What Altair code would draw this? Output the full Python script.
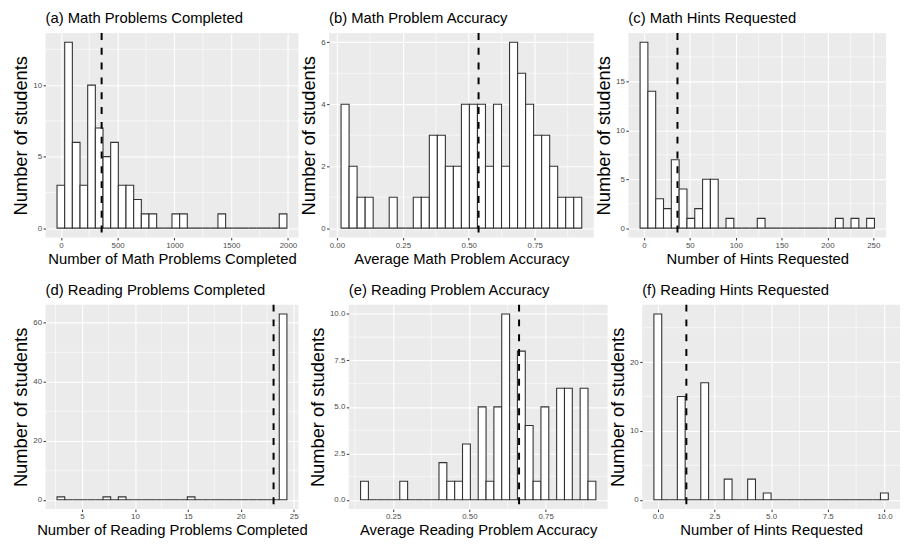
import altair as alt
import pandas as pd

panel_titles = [
    "(a) Math Problems Completed", "(b) Math Problem Accuracy", "(c) Math Hints Requested",
    "(d) Reading Problems Completed", "(e) Reading Problem Accuracy", "(f) Reading Hints Requested",
]
x_titles = [
    "Number of Math Problems Completed", "Average Math Problem Accuracy", "Number of Hints Requested",
    "Number of Reading Problems Completed", "Average Reading Problem Accuracy", "Number of Hints Requested",
]
y_title = "Number of students"

# smallest / largest observed value of each variable (30 bins span them, as ggplot does)
data_min = [0, 0.031, 0, 3, 0.156, 0]
data_max = [1957, 0.913, 247, 24, 0.902, 10]

counts_a = [3, 13, 6, 3, 10, 7, 5, 6, 3, 3, 2, 1, 1, 0, 0, 1, 1, 0, 0, 0, 0, 1, 0, 0, 0, 0, 0, 0, 0, 1]
counts_b = [4, 2, 1, 1, 0, 0, 1, 0, 0, 1, 1, 3, 3, 2, 2, 4, 4, 4, 2, 4, 2, 6, 5, 4, 3, 3, 2, 1, 1, 1]
counts_c = [19, 14, 3, 2, 7, 4, 1, 2, 5, 5, 0, 1, 0, 0, 0, 1, 0, 0, 0, 0, 0, 0, 0, 0, 0, 1, 0, 1, 0, 1]
counts_d = [1, 0, 0, 0, 0, 0, 1, 0, 1, 0, 0, 0, 0, 0, 0, 0, 0, 1, 0, 0, 0, 0, 0, 0, 0, 0, 0, 0, 0, 63]
counts_e = [1, 0, 0, 0, 0, 1, 0, 0, 0, 0, 2, 1, 1, 3, 0, 5, 1, 5, 10, 0, 8, 4, 1, 5, 0, 6, 6, 0, 6, 1]
counts_f = [27, 0, 0, 15, 0, 0, 17, 0, 0, 3, 0, 0, 3, 0, 1, 0, 0, 0, 0, 0, 0, 0, 0, 0, 0, 0, 0, 0, 0, 1]
counts = [counts_a, counts_b, counts_c, counts_d, counts_e, counts_f]

means = [359, 0.537, 36.5, 23.1, 0.663, 1.26]

x_ticks = [[0, 500, 1000, 1500, 2000], [0, 0.25, 0.5, 0.75], [0, 50, 100, 150, 200, 250],
           [5, 10, 15, 20, 25], [0.25, 0.5, 0.75], [0, 2.5, 5, 7.5, 10]]
x_minor = [[250, 750, 1250, 1750], [0.125, 0.375, 0.625, 0.875], [25, 75, 125, 175, 225],
           [2.5, 7.5, 12.5, 17.5, 22.5], [0.125, 0.375, 0.625, 0.875], [1.25, 3.75, 6.25, 8.75]]
x_fmt = ["d", ".2f", "d", "d", ".2f", ".1f"]
y_ticks = [[0, 5, 10], [0, 2, 4, 6], [0, 5, 10, 15], [0, 20, 40, 60], [0, 2.5, 5, 7.5, 10], [0, 10, 20]]
y_minor = [[2.5, 7.5, 12.5], [1, 3, 5], [2.5, 7.5, 12.5, 17.5], [10, 30, 50],
           [1.25, 3.75, 6.25, 8.75], [5, 15, 25]]
y_fmt = ["d", "d", "d", "d", ".1f", "d"]

widths = [256, 268, 261, 256, 262, 261]
HEIGHT = 207
FONT = "Liberation Sans, Arial, sans-serif"


def panel(i):
    n = len(counts[i])
    w = (data_max[i] - data_min[i]) / (n - 1)
    lo = [data_min[i] + (k - 0.5) * w for k in range(n)]
    hi = [data_min[i] + (k + 0.5) * w for k in range(n)]
    df = pd.DataFrame({"lo": lo, "hi": hi, "count": counts[i], "base": [0] * n})
    xr = (hi[-1] - lo[0]) * 0.05
    ymax = max(counts[i])
    xscale = alt.Scale(domain=[lo[0] - xr, hi[-1] + xr], nice=False, zero=False)
    yscale = alt.Scale(domain=[-0.05 * ymax, 1.05 * ymax], nice=False, zero=False)
    xaxis = alt.Axis(values=x_ticks[i], format=x_fmt[i], title=x_titles[i])
    yaxis = alt.Axis(values=y_ticks[i], format=y_fmt[i], title=y_title)

    minor_x = alt.Chart(pd.DataFrame({"v": x_minor[i]})).mark_rule(
        color="white", strokeWidth=0.6
    ).encode(x=alt.X("v:Q", scale=xscale, axis=xaxis))
    minor_y = alt.Chart(pd.DataFrame({"v": y_minor[i]})).mark_rule(
        color="white", strokeWidth=0.6
    ).encode(y=alt.Y("v:Q", scale=yscale, axis=yaxis))
    bars = alt.Chart(df).mark_rect(
        fill="white", stroke="#333333", strokeWidth=1.1, opacity=1
    ).encode(
        x=alt.X("lo:Q", scale=xscale, axis=xaxis),
        x2="hi:Q",
        y=alt.Y("count:Q", scale=yscale, axis=yaxis),
        y2="base:Q",
    )
    mean = alt.Chart(pd.DataFrame({"m": [means[i]]})).mark_rule(
        color="black", strokeWidth=2, strokeDash=[7, 8]
    ).encode(x=alt.X("m:Q", scale=xscale, axis=xaxis))

    return alt.layer(minor_x, minor_y, bars, mean).properties(
        width=widths[i], height=HEIGHT,
        title=alt.TitleParams(panel_titles[i], anchor="start", frame="group"),
    )


row1 = alt.hconcat(panel(0), panel(1), panel(2), spacing=0)
row2 = alt.hconcat(panel(3), panel(4), panel(5), spacing=0)

chart = alt.vconcat(row1, row2, spacing=17).properties(
    padding={"left": 4, "top": 0, "right": 0, "bottom": 0}
).configure_view(
    fill="#EBEBEB", stroke=None
).configure_axis(
    grid=True, gridColor="white", gridWidth=1.1, domain=False,
    tickColor="#333333", tickSize=2.5, tickWidth=1,
    labelColor="#4D4D4D", labelFontSize=8, labelFont=FONT, labelPadding=1.5,
    titleFont=FONT, titleFontWeight="normal", titleColor="black", titlePadding=2,
).configure_axisY(
    titleFontSize=18.5, minExtent=0, maxExtent=200,
).configure_axisX(
    titleFontSize=15, minExtent=0,
).configure_title(
    font=FONT, fontSize=15, fontWeight="normal", color="black", offset=6,
)

chart.save("out.html", embed_options={"renderer": "svg", "actions": False})
